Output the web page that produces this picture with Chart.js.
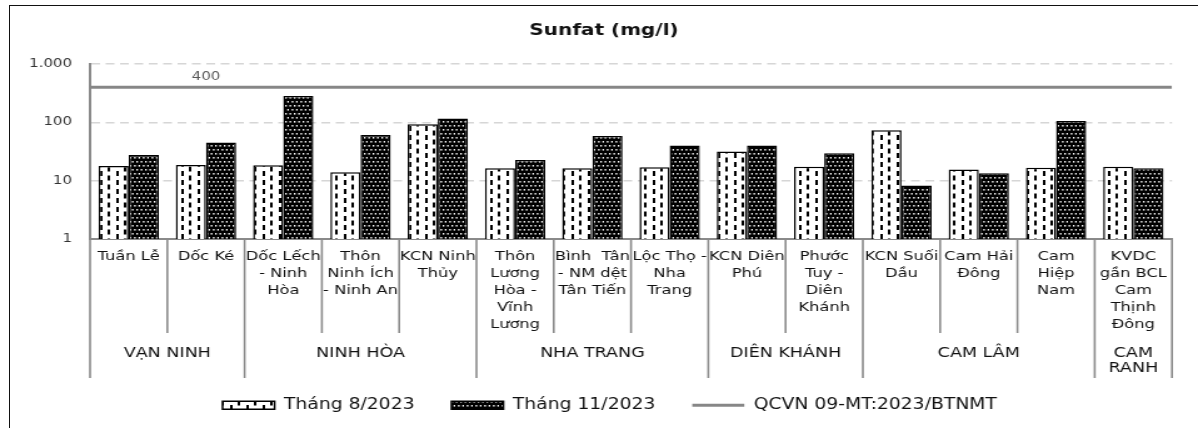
<!DOCTYPE html>
<html lang="vi">
<head>
<meta charset="utf-8">
<title>Sunfat (mg/l)</title>
<script src="https://cdn.jsdelivr.net/npm/chart.js@4.4.1/dist/chart.umd.min.js"></script>
<style>
  html, body { margin: 0; padding: 0; background: #fff; overflow: hidden; width: 1198px; height: 428px; }
  #frame { position: absolute; left: 9px; top: 5px; width: 1300px; height: 500px; border: 1px solid #111; box-sizing: border-box; pointer-events: none; }
  #wrap { position: absolute; left: 0; top: 0; width: 958px; height: 428px; transform: scaleX(1.2505); transform-origin: 0 0; }
  canvas { display: block; }
</style>
</head>
<body>
<div id="frame"></div>
<div id="wrap"><canvas id="chart" width="958" height="428"></canvas></div>
<script>
// Monitoring sites (multi-line names as printed under the axis)
const siteLines = [
  ["Tuần Lễ"],
  ["Dốc Ké"],
  ["Dốc Lếch", "- Ninh", "Hòa"],
  ["Thôn", "Ninh Ích", "- Ninh An"],
  ["KCN Ninh", "Thủy"],
  ["Thôn", "Lương", "Hòa -", "Vĩnh", "Lương"],
  ["Bình  Tân", "- NM dệt", "Tân Tiến"],
  ["Lộc Thọ -", "Nha", "Trang"],
  ["KCN Diên", "Phú"],
  ["Phước", "Tuy -", "Diên", "Khánh"],
  ["KCN Suối", "Dầu"],
  ["Cam Hải", "Đông"],
  ["Cam", "Hiệp", "Nam"],
  ["KVDC", "gần BCL", "Cam", "Thịnh", "Đông"]
];

// District groups and how many sites each one spans
const groupNames = [["VẠN NINH"], ["NINH HÒA"], ["NHA TRANG"], ["DIÊN KHÁNH"], ["CAM LÂM"], ["CAM", "RANH"]];
const groupSizes = [2, 3, 3, 2, 3, 1];

// Sulfate concentration, mg/l
const aug2023 = [17.9, 18.6, 18.4, 13.9, 92.8, 16.3, 16.3, 17.0, 31.5, 17.4, 73.2, 15.5, 16.7, 17.4];
const nov2023 = [27.6, 44.9, 284, 60.8, 115.8, 22.6, 58.4, 39.9, 39.9, 29.5, 8.3, 13.4, 105.7, 16.3];

// QCVN 09-MT:2023/BTNMT limit
const limitValue = 400;
const limitLabelIndex = 1;

// Series names
const seriesNames = ["Tháng 8/2023", "Tháng 11/2023", "QCVN 09-MT:2023/BTNMT"];

// Value axis ticks
const yTickValues = [1, 10, 100, 1000];
const yTickLabels = ["1", "10", "100", "1.000"];

const FONT = "'DejaVu Sans', Verdana, sans-serif";
const AXIS_GRAY = '#8a8a8a';

// Site positions on the x axis: 0..n-1, each slot spanning ±0.5
const siteIndex = siteLines.map((_, i) => i);
const xMin = -0.5;
const xMax = siteLines.length - 0.5;

// Fill patterns for the two series
function dashedVerticalPattern(ctx) {
  const c = document.createElement('canvas');
  c.width = 13; c.height = 9;
  const g = c.getContext('2d');
  g.fillStyle = '#fff'; g.fillRect(0, 0, 13, 9);
  g.fillStyle = '#000';
  g.fillRect(2, 0, 2, 5);
  g.fillRect(8, 4.5, 2, 4.5);
  g.fillRect(8, 0, 2, 0.5);
  return ctx.createPattern(c, 'repeat');
}
function dottedDarkPattern(ctx) {
  const c = document.createElement('canvas');
  c.width = 7; c.height = 8;
  const g = c.getContext('2d');
  g.fillStyle = '#000'; g.fillRect(0, 0, 7, 8);
  g.fillStyle = '#fff';
  g.fillRect(0.5, 1, 1.3, 1.6);
  g.fillRect(4, 1, 1.3, 1.6);
  g.fillRect(2.25, 5, 1.3, 1.6);
  g.fillRect(5.75, 5, 1.3, 1.6);
  return ctx.createPattern(c, 'repeat');
}

// Draws the two-level category axis (site names, district names, separators)
const groupedAxis = {
  id: 'groupedAxis',
  afterDraw(chart) {
    const ctx = chart.ctx;
    const xs = chart.scales.x;
    const top = chart.chartArea.bottom;
    const edge = i => xs.getPixelForValue(i - 0.5);

    // group boundaries
    const bounds = [0];
    groupSizes.forEach(s => bounds.push(bounds[bounds.length - 1] + s));

    ctx.save();
    ctx.strokeStyle = AXIS_GRAY;
    ctx.lineWidth = 1.6;
    for (let i = 0; i <= siteLines.length; i++) {
      const isGroup = bounds.includes(i);
      const x = edge(i);
      ctx.beginPath();
      ctx.moveTo(x, top);
      ctx.lineTo(x, isGroup ? 378 : 333);
      ctx.stroke();
    }

    ctx.fillStyle = '#111';
    ctx.textAlign = 'center';
    ctx.textBaseline = 'middle';
    ctx.font = '13px ' + FONT;
    siteLines.forEach((lines, i) => {
      const cx = xs.getPixelForValue(i);
      lines.forEach((t, k) => ctx.fillText(t, cx, top + 18 + k * 17));
    });

    ctx.font = '14px ' + FONT;
    groupNames.forEach((lines, g) => {
      const cx = (edge(bounds[g]) + edge(bounds[g + 1])) / 2;
      lines.forEach((t, k) => ctx.fillText(t, cx, 353 + k * 15));
    });
    ctx.restore();
  }
};

// Value label of the limit line
const limitLabel = {
  id: 'limitLabel',
  afterDatasetsDraw(chart) {
    const ctx = chart.ctx;
    const yPix = chart.scales.y.getPixelForValue(limitValue);
    const xPix = chart.scales.x.getPixelForValue(limitLabelIndex);
    ctx.save();
    ctx.fillStyle = '#595959';
    ctx.font = '12px ' + FONT;
    ctx.textAlign = 'center';
    ctx.textBaseline = 'middle';
    ctx.fillText(String(limitValue), xPix, yPix - 10);
    ctx.restore();
  }
};

// Nudges the title and legend blocks sideways after layout
const blockOffsets = {
  id: 'blockOffsets',
  afterLayout(chart) {
    if (chart.titleBlock) { chart.titleBlock.left += 3.4; chart.titleBlock.right += 3.4; }
    if (chart.legend) { chart.legend.left += 8; chart.legend.right += 8; }
  }
};

const canvas = document.getElementById('chart');
const ctx = canvas.getContext('2d');

new Chart(ctx, {
  type: 'bar',
  data: {
    datasets: [
      {
        label: seriesNames[0],
        data: aug2023.map((v, i) => ({ x: siteIndex[i], y: v })),
        backgroundColor: dashedVerticalPattern(ctx),
        borderColor: '#000',
        borderWidth: 1.5,
        pointStyle: 'rect'
      },
      {
        label: seriesNames[1],
        data: nov2023.map((v, i) => ({ x: siteIndex[i], y: v })),
        backgroundColor: dottedDarkPattern(ctx),
        borderColor: '#000',
        borderWidth: 1.5,
        pointStyle: 'rect'
      },
      {
        type: 'line',
        label: seriesNames[2],
        data: [{ x: xMin, y: limitValue }, { x: xMax, y: limitValue }],
        borderColor: '#878787',
        backgroundColor: '#878787',
        borderWidth: 3,
        pointRadius: 0,
        pointStyle: 'line',
        fill: false
      }
    ]
  },
  options: {
    responsive: false,
    animation: false,
    devicePixelRatio: 1,
    datasets: {
      bar: { categoryPercentage: 0.78, barPercentage: 1.0 }
    },
    layout: { padding: { left: 22, right: 20.8, top: 0, bottom: 5.25 } },
    scales: {
      x: {
        type: 'linear',
        min: xMin,
        max: xMax,
        offset: false,
        afterBuildTicks(scale) { scale.ticks = siteIndex.map(v => ({ value: v })); },
        grid: { display: false },
        ticks: { display: false },
        border: { display: true, color: AXIS_GRAY, width: 2 },
        afterFit(scale) { scale.height = 129.25; }
      },
      y: {
        type: 'logarithmic',
        min: 1,
        max: 1000,
        afterBuildTicks(scale) { scale.ticks = yTickValues.map(v => ({ value: v })); },
        afterFit(scale) { scale.width = 50; },
        ticks: {
          padding: 14.4,
          color: '#333',
          font: { family: FONT, size: 12 },
          callback: v => yTickLabels[yTickValues.indexOf(v)] ?? ''
        },
        grid: {
          drawTicks: false,
          color: c => (c.tick && c.tick.value === 1) ? 'rgba(0,0,0,0)' : '#d6d6d6',
          lineWidth: 1.5
        },
        border: { display: true, color: AXIS_GRAY, width: 2, dash: [7, 4.5] }
      }
    },
    plugins: {
      title: {
        display: true,
        text: 'Sunfat (mg/l)',
        color: '#111',
        font: { family: FONT, size: 16, weight: 'bold', lineHeight: '16px' },
        padding: { top: 23, bottom: 25 }
      },
      legend: {
        display: true,
        position: 'bottom',
        labels: {
          usePointStyle: true,
          pointStyleWidth: 41.6,
          boxHeight: 8,
          padding: 29.5,
          color: '#111',
          font: { family: FONT, size: 15 }
        }
      },
      tooltip: { enabled: false }
    }
  },
  plugins: [groupedAxis, limitLabel, blockOffsets]
});
</script>
</body>
</html>
